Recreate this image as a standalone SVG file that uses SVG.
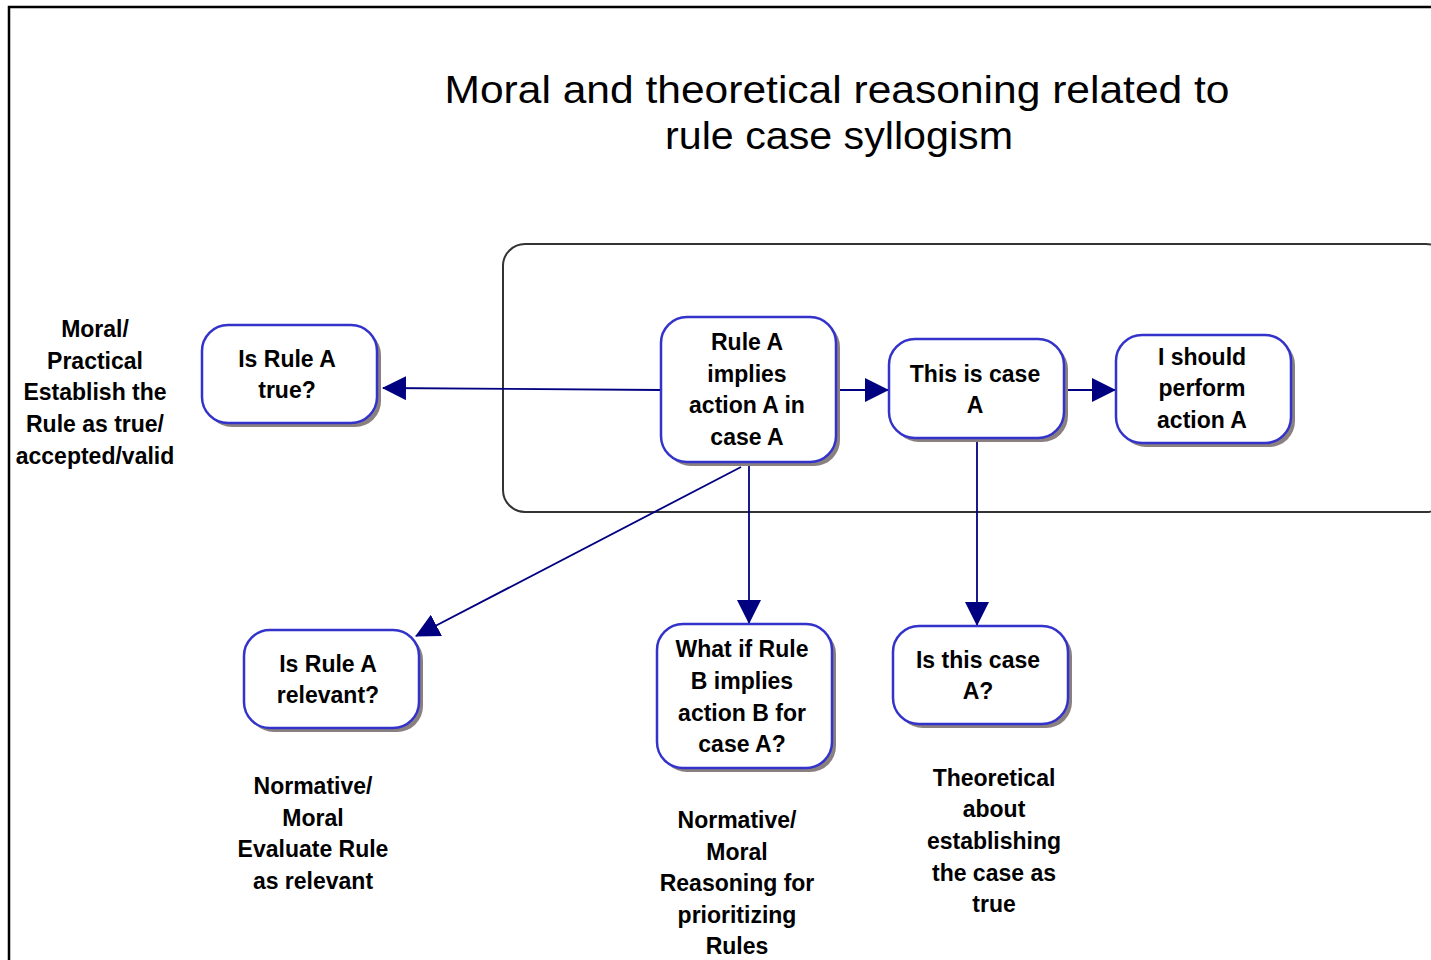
<svg xmlns="http://www.w3.org/2000/svg" width="1431" height="960" viewBox="0 0 1431 960">
  <defs>
    <marker id="arrow" viewBox="0 0 24 24" refX="23" refY="12" markerWidth="24" markerHeight="24" markerUnits="userSpaceOnUse" orient="auto">
      <path d="M0,0 L24,12 L0,24 Z" fill="#000080"/>
    </marker>
    <style>
      .frame { fill: none; stroke: #000; stroke-width: 2.5; }
      .group { fill: none; stroke: #333; stroke-width: 2; }
      .shadow { fill: #8a8080; }
      .box { fill: #fff; stroke: #3333cc; stroke-width: 2.5; }
      .edge { fill: none; stroke: #000080; stroke-width: 1.8; marker-end: url(#arrow); }
      .t { font-family: "Liberation Sans", Arial, sans-serif; font-weight: bold; font-size: 23px; fill: #000; text-anchor: middle; }
      .title { font-family: "Liberation Sans", Arial, sans-serif; font-size: 38px; fill: #000; text-anchor: middle; }
    </style>
  </defs>

  <rect width="1431" height="960" fill="#fff"/>

  <!-- outer frame -->
  <path class="frame" d="M9,960 V7 H1431"/>

  <!-- title -->
  <g id="title">
    <text class="title" x="837" y="103" textLength="785" lengthAdjust="spacingAndGlyphs">Moral and theoretical reasoning related to</text>
    <text class="title" x="839" y="149" textLength="348" lengthAdjust="spacingAndGlyphs">rule case syllogism</text>
  </g>

  <!-- syllogism group frame -->
  <rect id="syllogism-group" class="group" x="503" y="244" width="945" height="268" rx="22" ry="22"/>

  <!-- connectors -->
  <g id="connectors">
    <path class="edge" d="M661,390 L383,388"/>
    <path class="edge" d="M836,390 L888,390"/>
    <path class="edge" d="M1064,390 L1115,390"/>
    <path class="edge" d="M749,462 L749,623"/>
    <path class="edge" d="M977,438 L977,625"/>
    <path class="edge" d="M741,467 L416,636"/>
  </g>

  <!-- nodes -->
  <g id="node-rule-true">
    <rect class="shadow" x="206" y="329" width="175" height="98" rx="26"/>
    <rect class="box" x="202" y="325" width="175" height="98" rx="26"/>
    <text class="t" x="287" y="367">Is Rule A</text>
    <text class="t" x="287" y="398">true?</text>
  </g>

  <g id="node-rule-implies">
    <rect class="shadow" x="665" y="321" width="175" height="145" rx="26"/>
    <rect class="box" x="661" y="317" width="175" height="145" rx="26"/>
    <text class="t" x="747" y="350">Rule A</text>
    <text class="t" x="747" y="382">implies</text>
    <text class="t" x="747" y="413">action A in</text>
    <text class="t" x="747" y="445">case A</text>
  </g>

  <g id="node-this-case">
    <rect class="shadow" x="893" y="343" width="175" height="99" rx="26"/>
    <rect class="box" x="889" y="339" width="175" height="99" rx="26"/>
    <text class="t" x="975" y="382">This is case</text>
    <text class="t" x="975" y="413">A</text>
  </g>

  <g id="node-perform">
    <rect class="shadow" x="1120" y="339" width="175" height="108" rx="26"/>
    <rect class="box" x="1116" y="335" width="175" height="108" rx="26"/>
    <text class="t" x="1202" y="365">I should</text>
    <text class="t" x="1202" y="396">perform</text>
    <text class="t" x="1202" y="428">action A</text>
  </g>

  <g id="node-relevant">
    <rect class="shadow" x="248" y="634" width="175" height="98" rx="26"/>
    <rect class="box" x="244" y="630" width="175" height="98" rx="26"/>
    <text class="t" x="328" y="672">Is Rule A</text>
    <text class="t" x="328" y="703">relevant?</text>
  </g>

  <g id="node-rule-b">
    <rect class="shadow" x="661" y="628" width="175" height="144" rx="26"/>
    <rect class="box" x="657" y="624" width="175" height="144" rx="26"/>
    <text class="t" x="742" y="657">What if Rule</text>
    <text class="t" x="742" y="689">B implies</text>
    <text class="t" x="742" y="721">action B for</text>
    <text class="t" x="742" y="752">case A?</text>
  </g>

  <g id="node-is-case">
    <rect class="shadow" x="897" y="630" width="175" height="98" rx="26"/>
    <rect class="box" x="893" y="626" width="175" height="98" rx="26"/>
    <text class="t" x="978" y="668">Is this case</text>
    <text class="t" x="978" y="699">A?</text>
  </g>

  <!-- annotations -->
  <g id="note-practical">
    <text class="t" x="95" y="337">Moral/</text>
    <text class="t" x="95" y="369">Practical</text>
    <text class="t" x="95" y="400">Establish the</text>
    <text class="t" x="95" y="432">Rule as true/</text>
    <text class="t" x="95" y="464">accepted/valid</text>
  </g>

  <g id="note-relevant">
    <text class="t" x="313" y="794">Normative/</text>
    <text class="t" x="313" y="826">Moral</text>
    <text class="t" x="313" y="857">Evaluate Rule</text>
    <text class="t" x="313" y="889">as relevant</text>
  </g>

  <g id="note-prioritizing">
    <text class="t" x="737" y="828">Normative/</text>
    <text class="t" x="737" y="860">Moral</text>
    <text class="t" x="737" y="891">Reasoning for</text>
    <text class="t" x="737" y="923">prioritizing</text>
    <text class="t" x="737" y="954">Rules</text>
  </g>

  <g id="note-theoretical">
    <text class="t" x="994" y="786">Theoretical</text>
    <text class="t" x="994" y="817">about</text>
    <text class="t" x="994" y="849">establishing</text>
    <text class="t" x="994" y="881">the case as</text>
    <text class="t" x="994" y="912">true</text>
  </g>
</svg>
